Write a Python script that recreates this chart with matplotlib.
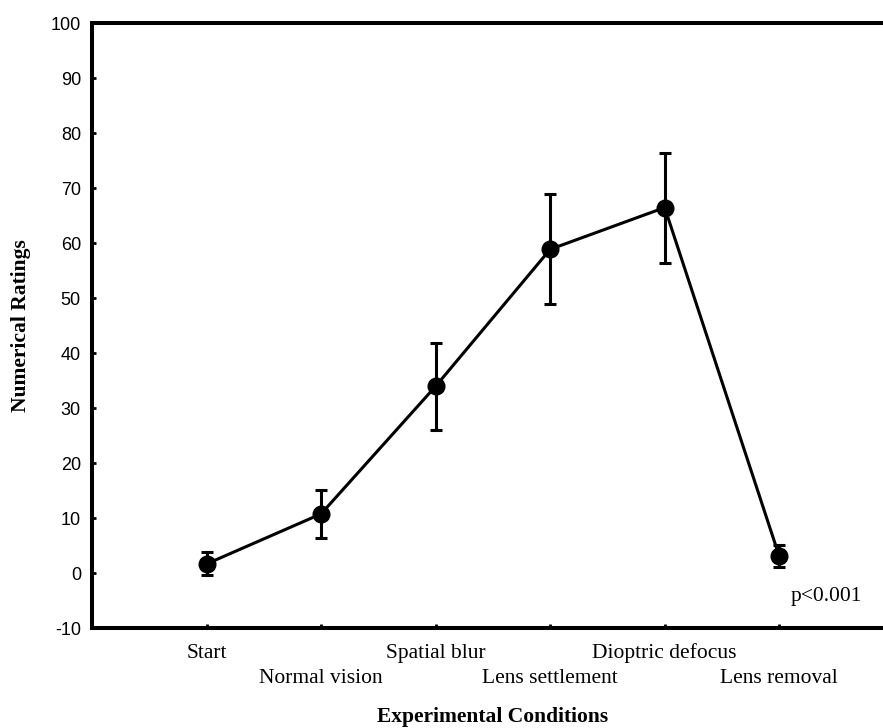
import numpy as np
import matplotlib.pyplot as plt

plt.rcParams["axes.unicode_minus"] = False

# data
conditions = ["Start", "Normal vision", "Spatial blur",
              "Lens settlement", "Dioptric defocus", "Lens removal"]
ratings = [1.7, 10.8, 34.0, 58.9, 66.5, 3.1]
errors = [2.1, 4.3, 7.9, 10.0, 10.0, 2.0]
y_ticks = [-10, 0, 10, 20, 30, 40, 50, 60, 70, 80, 90, 100]

x = np.arange(1, len(conditions) + 1)

fig = plt.figure(figsize=(8.83, 7.28), dpi=100)
ax = fig.add_axes([0.1042, 0.137, 0.908, 0.831])

ax.errorbar(x, ratings, yerr=errors, color="black", lw=2.2, marker="o",
            markersize=12, elinewidth=2.2, capsize=4.3, capthick=2.2)

ax.set_xlim(0, 7)
ax.set_ylim(-10, 100)
ax.set_yticks(y_ticks)

# labels alternate between two rows: upper row on major ticks, lower row on minor
ax.set_xticks(x[::2])
ax.set_xticklabels(conditions[::2], family="Liberation Serif", fontsize=15.5)
ax.set_xticks(x[1::2], minor=True)
ax.set_xticklabels(conditions[1::2], minor=True, family="Liberation Serif", fontsize=15.5)

for lab in ax.get_yticklabels():
    lab.set_family("Liberation Sans")
    lab.set_fontsize(13)

ax.tick_params(which="both", direction="in", length=3, width=2)
ax.tick_params(axis="x", which="major", pad=11)
ax.tick_params(axis="x", which="minor", pad=29)
ax.tick_params(axis="y", pad=8)

for side in ["left", "bottom", "top", "right"]:
    ax.spines[side].set_linewidth(2.9)

ax.set_xlabel("Experimental Conditions", family="Liberation Serif",
              fontweight="bold", fontsize=15.5, va="center")
ax.xaxis.set_label_coords(0.5, -0.146)
ax.set_ylabel("Numerical Ratings", family="Liberation Serif",
              fontweight="bold", fontsize=15.5, labelpad=14)

ax.text(6.41, -4.3, "p<0.001", family="Liberation Serif", fontsize=15.5,
        ha="center", va="center")

fig.savefig("out.png", dpi=100)
